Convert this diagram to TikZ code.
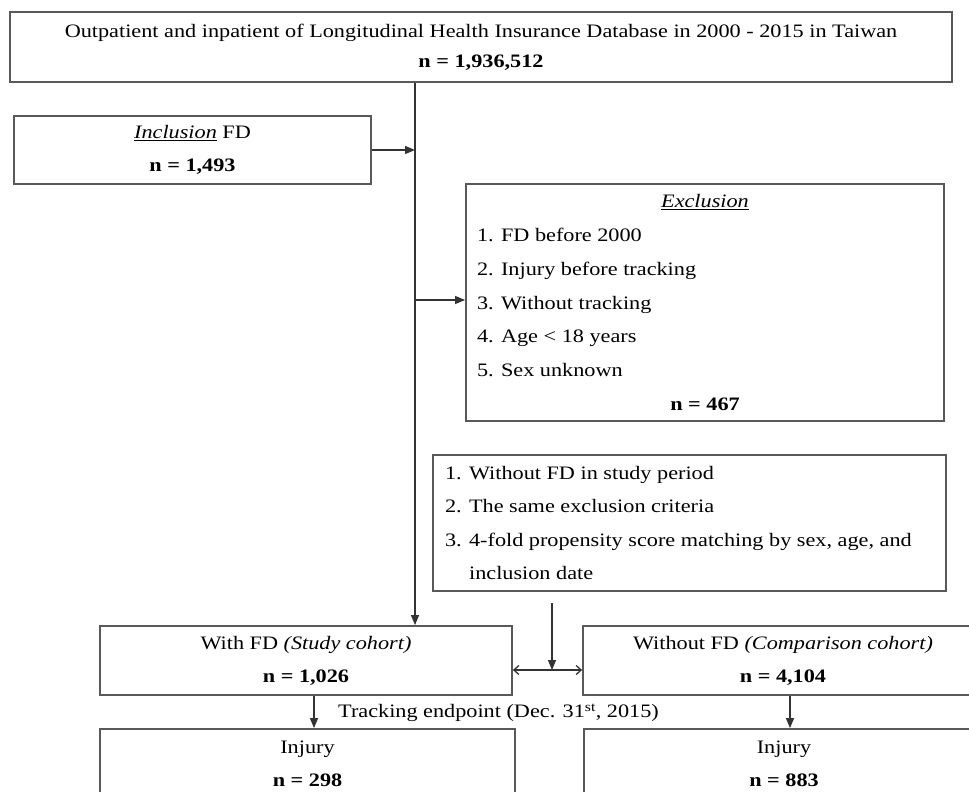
\documentclass[tikz,border=0pt]{standalone}
\usepackage{fontspec}
\setmainfont{Liberation Serif}[FakeStretch=1.17]
\usetikzlibrary{arrows.meta,calc}
\begin{document}
\begin{tikzpicture}[x=1pt,y=-1pt,
  box/.style={draw=black!65, line width=1.8pt, rectangle, inner sep=0pt, align=center,
    text=black, font=\fontsize{19}{33}\selectfont},
  conn/.style={draw=black!80, line width=1.3pt},
  arr/.style={conn, -{Triangle[length=10pt,width=8pt]}},
  darr/.style={conn, {Straight Barb[length=5pt,width=9pt]}-{Straight Barb[length=5pt,width=9pt]}},
  lbl/.style={text=black, inner sep=0pt, font=\fontsize{19}{33}\selectfont}]
\useasboundingbox (0,0) rectangle (969,792);
\clip (0,0) rectangle (969,792);
\fill[white] (0,0) rectangle (969,792);

\node[box, minimum width=942pt, minimum height=70pt, font=\fontsize{19}{30}\selectfont] (top) at (481,47)
  {Outpatient and inpatient of Longitudinal Health Insurance Database in 2000 - 2015 in Taiwan\\\textbf{n = 1,936,512}};

\node[box, minimum width=357pt, minimum height=68pt] (inc) at (192.5,150)
  {\underline{\textit{Inclusion}} FD\\\textbf{n = 1,493}};

\node[box, minimum width=478pt, minimum height=237pt, font=\fontsize{19}{33.7}\selectfont] (exc) at (705,302.5)
  {\parbox{456pt}{\centering\underline{\textit{Exclusion}}\par
   \raggedright 1. FD before 2000\par
   2. Injury before tracking\par
   3. Without tracking\par
   4. Age < 18 years\par
   5. Sex unknown\par
   \centering\textbf{n = 467}\par}};

\node[box, minimum width=513pt, minimum height=136pt, font=\fontsize{19}{33.3}\selectfont] (crit) at (689.5,523)
  {\parbox{489pt}{\raggedright 1. Without FD in study period\par
   2. The same exclusion criteria\par
   3. 4-fold propensity score matching by sex, age, and\par
   \hphantom{3. }inclusion date\par}};

\node[box, minimum width=412pt, minimum height=69pt] (wfd) at (306,660.5)
  {With FD \textit{(Study cohort)}\\\textbf{n = 1,026}};
\node[box, minimum width=400pt, minimum height=69pt] (wofd) at (783,660.5)
  {Without FD \textit{(Comparison cohort)}\\\textbf{n = 4,104}};

\node[box, minimum width=415pt, minimum height=70pt] (inj1) at (307.5,764)
  {Injury\\\textbf{n = 298}};
\node[box, minimum width=400pt, minimum height=70pt] (inj2) at (784,764)
  {Injury\\\textbf{n = 883}};

\node[lbl, anchor=west] (track) at (338,713) {Tracking endpoint (Dec. 31\textsuperscript{st}, 2015)};

\coordinate (j1) at (415,150);
\coordinate (j2) at (415,300);
\coordinate (cs) at (552,603);
\coordinate (dm) at (552,670);
\coordinate (a1) at (314,0);
\coordinate (a2) at (790,0);

\draw[arr] (top.south -| j1) -- (wfd.north -| j1);
\draw[arr] (inc.east) -- (j1);
\draw[arr] (j2) -- (j2 -| exc.west);
\draw[arr] (cs) -- (dm);
\draw[darr] (wfd.east |- dm) -- (wofd.west |- dm);
\draw[arr] (wfd.south -| a1) -- (inj1.north -| a1);
\draw[arr] (wofd.south -| a2) -- (inj2.north -| a2);
\end{tikzpicture}
\end{document}
